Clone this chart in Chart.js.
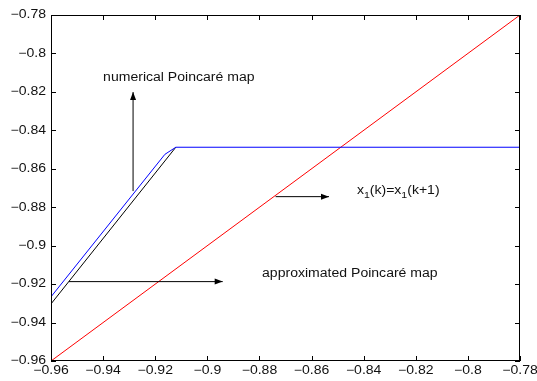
<!DOCTYPE html>
<html>
<head>
<meta charset="utf-8">
<script src="https://cdn.jsdelivr.net/npm/chart.js@4"></script>
<style>
  html, body { margin: 0; padding: 0; background: #fff; }
  #box { width: 537px; height: 381px; }
</style>
</head>
<body>
<div id="box"><canvas id="myChart"></canvas></div>
<script>
// valeurs
const tickVals = [-0.96, -0.94, -0.92, -0.9, -0.88, -0.86, -0.84, -0.82, -0.8, -0.78];
const numX = [-0.96, -0.9163, -0.9121, -0.78];
const numY = [-0.9266, -0.8525, -0.8488, -0.8488];
const approxX = [-0.96, -0.9121];
const approxY = [-0.9303, -0.8488];
const diagX = [-0.96, -0.78];
const diagY = [-0.96, -0.78];

// annotations (coordonnées en unités des axes)
const notes = [
  { text: 'numerical Poincaré map', x: -0.9400, y: -0.8125 },
  { text: 'approximated Poincaré map', x: -0.8790, y: -0.9147 }
];
const arrows = [
  { x0: -0.9285, y0: -0.8716, x1: -0.9285, y1: -0.8201 },
  { x0: -0.9531, y0: -0.9187, x1: -0.8941, y1: -0.9187 },
  { x0: -0.8738, y0: -0.8745, x1: -0.8533, y1: -0.8745 }
];
const eqPos = { x: -0.8426, y: -0.8716 };

function toPoints(xs, ys) {
  return xs.map((x, i) => ({ x: x, y: ys[i] }));
}

function fmt(v) {
  return '\u2212' + Math.abs(v).toFixed(2).replace(/0$/, '');
}

const FONT = '"Liberation Sans", Arial, Helvetica, sans-serif';
const STRETCH = 1.17; // le texte de la figure est étiré horizontalement

// texte étiré, renvoie la largeur dessinée
function drawText(ctx, txt, x, y, align, size) {
  ctx.save();
  ctx.font = size + 'px ' + FONT;
  const w = ctx.measureText(txt).width * STRETCH;
  let left = x;
  if (align === 'center') left = x - w / 2;
  else if (align === 'right') left = x - w;
  ctx.translate(left, y);
  ctx.scale(STRETCH, 1);
  ctx.textAlign = 'left';
  ctx.textBaseline = 'middle';
  ctx.fillText(txt, 0, 0);
  ctx.restore();
  return w;
}

// cadre, graduations internes, étiquettes et annotations
const decor = {
  id: 'decor',
  afterDraw(chart) {
    const ctx = chart.ctx;
    const a = chart.chartArea;
    const sx = chart.scales.x, sy = chart.scales.y;
    ctx.save();
    ctx.strokeStyle = '#000';
    ctx.fillStyle = '#111';
    ctx.lineWidth = 1;
    ctx.strokeRect(a.left + 0.5, a.top + 0.5, a.right - a.left - 1, a.bottom - a.top - 1);
    ctx.beginPath();
    const tl = 5;
    tickVals.forEach(v => {
      const px = Math.round(sx.getPixelForValue(v)) + 0.5;
      ctx.moveTo(px, a.bottom); ctx.lineTo(px, a.bottom - tl);
      ctx.moveTo(px, a.top); ctx.lineTo(px, a.top + tl);
      const py = Math.round(sy.getPixelForValue(v)) + 0.5;
      ctx.moveTo(a.left, py); ctx.lineTo(a.left + tl, py);
      ctx.moveTo(a.right, py); ctx.lineTo(a.right - tl, py);
    });
    ctx.stroke();

    // étiquettes des axes
    tickVals.forEach(v => {
      drawText(ctx, fmt(v), sx.getPixelForValue(v), a.bottom + 10, 'center', 12);
      drawText(ctx, fmt(v), a.left - 5, sy.getPixelForValue(v), 'right', 12);
    });

    // flèches
    arrows.forEach(ar => {
      const x0 = sx.getPixelForValue(ar.x0), y0 = sy.getPixelForValue(ar.y0);
      const x1 = sx.getPixelForValue(ar.x1), y1 = sy.getPixelForValue(ar.y1);
      const ang = Math.atan2(y1 - y0, x1 - x0);
      ctx.beginPath();
      ctx.moveTo(x0, y0); ctx.lineTo(x1, y1);
      ctx.stroke();
      const hl = 8, hw = 3;
      ctx.beginPath();
      ctx.moveTo(x1, y1);
      ctx.lineTo(x1 - hl * Math.cos(ang) + hw * Math.sin(ang), y1 - hl * Math.sin(ang) - hw * Math.cos(ang));
      ctx.lineTo(x1 - hl * Math.cos(ang) - hw * Math.sin(ang), y1 - hl * Math.sin(ang) + hw * Math.cos(ang));
      ctx.closePath();
      ctx.fillStyle = '#000';
      ctx.fill();
    });

    // textes
    ctx.fillStyle = '#111';
    notes.forEach(n => {
      drawText(ctx, n.text, sx.getPixelForValue(n.x), sy.getPixelForValue(n.y), 'left', 12);
    });

    // x1(k)=x1(k+1) avec indices
    let ex = sx.getPixelForValue(eqPos.x);
    const ey = sy.getPixelForValue(eqPos.y);
    const parts = [['x', 0], ['1', 1], ['(k)=x', 0], ['1', 1], ['(k+1)', 0]];
    parts.forEach(p => {
      if (p[1]) ex += drawText(ctx, p[0], ex, ey + 4, 'left', 9);
      else ex += drawText(ctx, p[0], ex, ey, 'left', 12);
    });
    ctx.restore();
  }
};

const ctx = document.getElementById('myChart').getContext('2d');
const config = {
  type: 'scatter',
  data: {
    datasets: [
      { data: toPoints(numX, numY), showLine: true, borderColor: '#0000ff', borderWidth: 1, pointRadius: 0 },
      { data: toPoints(approxX, approxY), showLine: true, borderColor: '#000000', borderWidth: 1, pointRadius: 0 },
      { data: toPoints(diagX, diagY), showLine: true, borderColor: '#ff0000', borderWidth: 1, pointRadius: 0 }
    ]
  },
  options: {
    responsive: true,
    maintainAspectRatio: false,
    animation: false,
    layout: { padding: { top: 15, right: 17, left: 0, bottom: 0 } },
    plugins: { legend: { display: false }, tooltip: { enabled: false } },
    scales: {
      x: {
        type: 'linear', min: -0.96, max: -0.78,
        afterBuildTicks: s => { s.ticks = tickVals.map(v => ({ value: v })); },
        afterFit: s => { s.height = 20; },
        grid: { display: false, drawTicks: false },
        border: { display: false },
        ticks: { display: false }
      },
      y: {
        type: 'linear', min: -0.96, max: -0.78,
        afterBuildTicks: s => { s.ticks = tickVals.map(v => ({ value: v })); },
        afterFit: s => { s.width = 51; },
        grid: { display: false, drawTicks: false },
        border: { display: false },
        ticks: { display: false }
      }
    }
  },
  plugins: [decor]
};
const myChart = new Chart(ctx, config);
</script>
</body>
</html>
